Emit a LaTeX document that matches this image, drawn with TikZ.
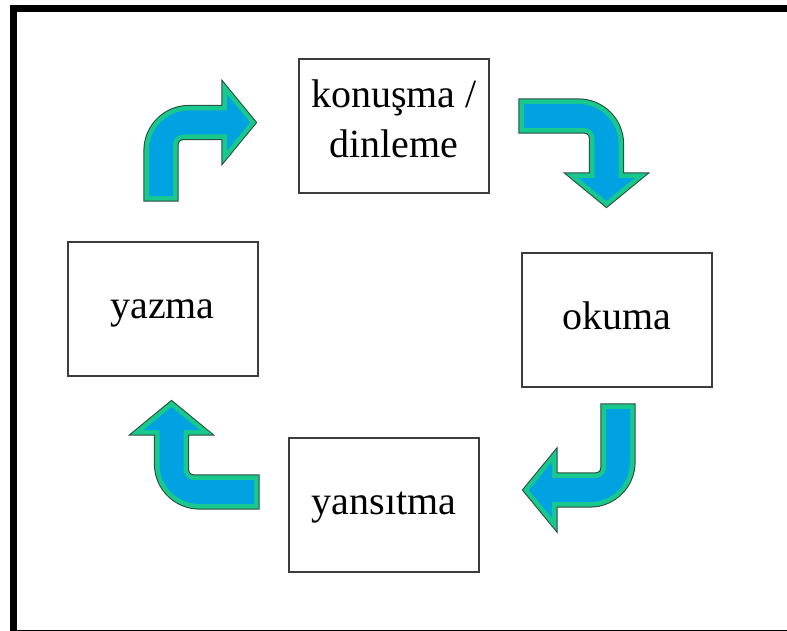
\documentclass[tikz,border=0pt]{standalone}
\usepackage{fontspec}
\setmainfont{Liberation Serif}
\definecolor{arrowblue}{RGB}{0,162,226}
\definecolor{arrowgreen}{RGB}{24,200,140}
\definecolor{arrowedge}{RGB}{40,70,55}
\definecolor{boxgray}{RGB}{60,60,60}

\begin{document}
\begin{tikzpicture}[x=0.5pt, y=-0.5pt,
    box/.style={draw=boxgray, line width=1pt, minimum width=95pt, minimum height=67pt,
        align=center, font=\fontsize{20}{25}\selectfont, execute at begin node=\strut},
    % bent block arrow: #1 = reach to the tip, #2 = run before the bend
    pics/bentarrow/.style 2 args={code={
        \path[fill=arrowblue,
              preaction={draw=arrowedge, line width=5.6pt},
              preaction={draw=arrowgreen, line width=4.6pt}]
            (-12, 0) -- (-12, {-#2-12+40})
            arc[start angle=180, end angle=270, radius=40]
            -- ({#1-30}, {-#2-12}) -- ({#1-30}, {-#2-28}) -- ({#1-7}, {-#2})
            -- ({#1-30}, {-#2+28}) -- ({#1-30}, {-#2+12}) -- (22, {-#2+12})
            arc[start angle=270, end angle=180, radius=10]
            -- (12, 0) -- cycle;
    }}]
    \useasboundingbox (0, 0) rectangle (787, 631);
    \draw[line width=3.5pt] (13.5, 8.5) rectangle (792, 633);

    \node[box] at (394, 126)   (talk) {konuşma /\\dinleme};
    \node[box] at (617, 319.5) (read) {okuma};
    \node[box] at (384, 504.5) (reflect) {yansıtma};
    \node[box] at (162.5, 308.5) (write) {yazma};

    \pic at (161, 196) {bentarrow={96}{73.5}};
    \pic[rotate=-90] at (524, 116) {bentarrow={92}{82.5}};
    \pic[rotate=180] at (618, 409) {bentarrow={96}{81}};
    \pic[rotate=90] at (254, 492) {bentarrow={92}{82.5}};
\end{tikzpicture}
\end{document}
